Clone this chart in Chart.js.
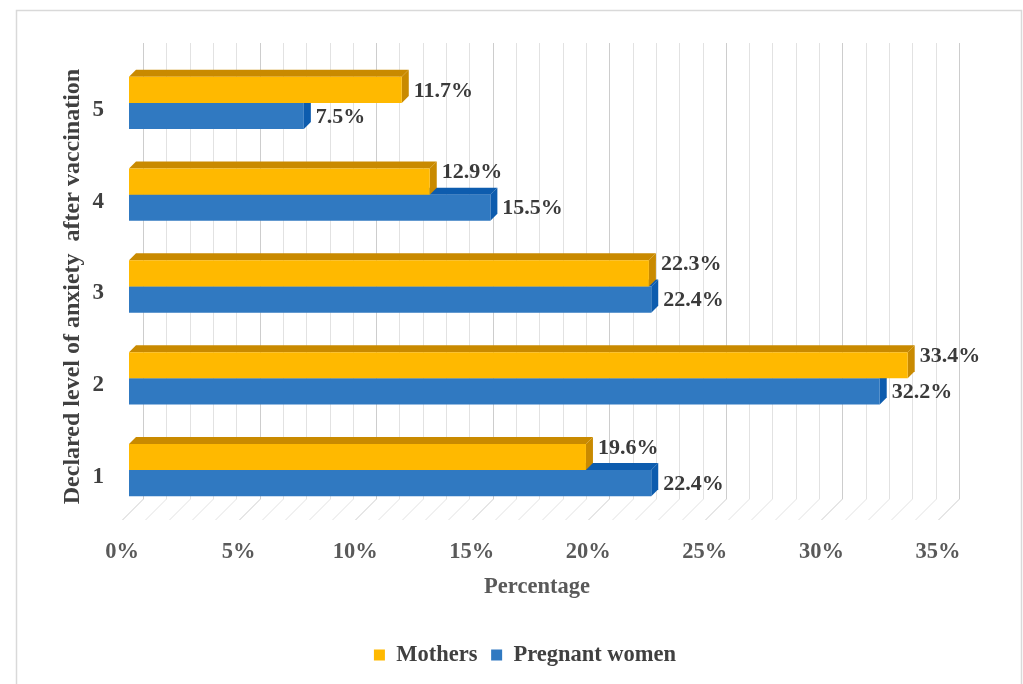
<!DOCTYPE html>
<html><head><meta charset="utf-8">
<script src="https://cdn.jsdelivr.net/npm/chart.js@4"></script>
<style>html,body{margin:0;padding:0;background:#fff}#wrap{width:1023px;height:684px;position:relative}</style>
</head><body><div id="wrap"><canvas id="c" width="1023" height="684"></canvas></div>
<script>
const categories = ['5', '4', '3', '2', '1'];
const mothers = [11.7, 12.9, 22.3, 33.4, 19.6];
const pregnant = [7.5, 15.5, 22.4, 32.2, 22.4];
const seriesNames = ['Mothers', 'Pregnant women'];
const xTicks = [0, 5, 10, 15, 20, 25, 30, 35];
const yTitle = 'Declared level of anxiety  after vaccination';
const xTitle = 'Percentage';

const SERIF = '"Liberation Serif", "Times New Roman", serif';
const FRONT = ['#FFB900', '#3079C1'];
const FACE = ['#C98A00', '#0D5CAE'];
const D = 7;

const threeD = {
  id: 'threeD',
  beforeDraw(chart) {
    const ctx = chart.ctx;
    ctx.save();
    ctx.strokeStyle = '#d9d9d9';
    ctx.lineWidth = 1.5;
    ctx.beginPath();
    ctx.moveTo(16.5, 684); ctx.lineTo(16.5, 10.5); ctx.lineTo(1021.5, 10.5); ctx.lineTo(1021.5, 684);
    ctx.stroke();
    ctx.restore();
  },
  beforeDatasetsDraw(chart) {
    const ctx = chart.ctx, xs = chart.scales.x, a = chart.chartArea;
    ctx.save();
    const top = a.top - 2 * D, backBottom = a.bottom - 17, floorFront = a.bottom + 4;
    for (let v = xs.min; v <= xs.max; v += 1) {
      const x = Math.round(xs.getPixelForValue(v)) + 0.5;
      const major = v % 5 === 0;
      ctx.strokeStyle = major ? '#cdcdcd' : '#e2e2e2';
      ctx.lineWidth = 1;
      ctx.beginPath();
      ctx.moveTo(x + 2 * D, top);
      ctx.lineTo(x + 2 * D, backBottom);
      ctx.lineTo(x - D, floorFront);
      ctx.stroke();
    }
    [1, 0].forEach(di => {
      const meta = chart.getDatasetMeta(di);
      meta.data.forEach(bar => {
        const p = bar.getProps(['x', 'y', 'base', 'height'], true);
        const t = p.y - p.height / 2, b = p.y + p.height / 2;
        ctx.fillStyle = FACE[di];
        ctx.beginPath();
        ctx.moveTo(p.base, t); ctx.lineTo(p.base + D, t - D); ctx.lineTo(p.x + D, t - D); ctx.lineTo(p.x, t);
        ctx.closePath(); ctx.fill();
        ctx.beginPath();
        ctx.moveTo(p.x, t); ctx.lineTo(p.x + D, t - D); ctx.lineTo(p.x + D, b - D); ctx.lineTo(p.x, b);
        ctx.closePath(); ctx.fill();
      });
    });
    ctx.restore();
  },
  afterDatasetsDraw(chart) {
    const ctx = chart.ctx;
    ctx.save();
    ctx.font = 'bold 22px ' + SERIF;
    ctx.fillStyle = '#3a3a3a';
    ctx.textAlign = 'left';
    ctx.textBaseline = 'middle';
    const m0 = chart.getDatasetMeta(0).data, m1 = chart.getDatasetMeta(1).data;
    const txt = (di, i) => chart.data.datasets[di].data[i].toFixed(1) + '%';
    m0.forEach((bar, i) => {
      const p0 = bar.getProps(['x', 'y'], true);
      const p1 = m1[i].getProps(['x', 'y'], true);
      const end1 = p1.x + 12 + ctx.measureText(txt(1, i)).width;
      const shift = end1 > p0.x + 12 ? -9 : 1;
      ctx.fillText(txt(0, i), p0.x + 12, p0.y + shift);
      ctx.fillText(txt(1, i), p1.x + 12, p1.y + 1);
    });
    ctx.restore();
  }
};

new Chart(document.getElementById('c'), {
  type: 'bar',
  data: {
    labels: categories,
    datasets: [
      { label: seriesNames[0], data: mothers, backgroundColor: FRONT[0], borderWidth: 0 },
      { label: seriesNames[1], data: pregnant, backgroundColor: FRONT[1], borderWidth: 0 }
    ]
  },
  options: {
    indexAxis: 'y',
    responsive: false,
    animation: false,
    devicePixelRatio: 1,
    layout: { padding: { top: 57, left: 27, right: 0, bottom: 7.75 } },
    datasets: { bar: { barPercentage: 1.0, categoryPercentage: 0.57 } },
    plugins: {
      tooltip: { enabled: false },
      legend: {
        position: 'bottom',
        labels: {
          boxWidth: 11, boxHeight: 11, padding: 13.75, color: '#404040',
          font: { family: SERIF, weight: 'bold', size: 22.5 }
        }
      }
    },
    scales: {
      x: {
        min: 0, max: 35,
        grid: { display: false, drawTicks: false },
        border: { display: false },
        afterBuildTicks(s) { s.ticks = xTicks.map(v => ({ value: v })); },
        ticks: {
          labelOffset: -7, padding: 23, color: '#595959',
          font: { family: SERIF, weight: 'bold', size: 22.5 },
          callback: v => v + '%'
        },
        title: {
          display: true, text: xTitle, color: '#595959',
          font: { family: SERIF, weight: 'bold', size: 22.5 },
          padding: { top: 0, bottom: 29.5 }
        },
        afterFit(s) { s.height = 114; }
      },
      y: {
        grid: { display: false, drawTicks: false },
        border: { display: false },
        ticks: {
          labelOffset: 7, padding: 25, color: '#404040',
          font: { family: SERIF, weight: 'bold', size: 23 }
        },
        title: {
          display: true, text: yTitle, color: '#404040',
          font: { family: SERIF, weight: 'bold', size: 24 },
          padding: { top: 31.6, bottom: 0 }
        },
        afterFit(s) { s.width = 102; }
      },
      y2: {
        position: 'right',
        grid: { display: false, drawTicks: false },
        border: { display: false },
        ticks: { display: false },
        afterFit(s) { s.width = 78; }
      }
    }
  },
  plugins: [threeD]
});
</script>
</body></html>
